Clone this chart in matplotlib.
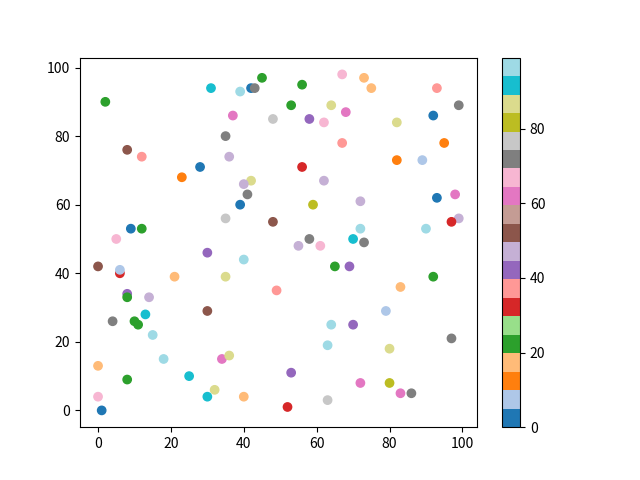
import numpy as np
import matplotlib
matplotlib.use('Agg')
import matplotlib.pyplot as plt

plt.rcParams['font.family'] = ['Noto Sans CJK SC', 'DejaVu Sans']

# point positions
x = [2, 31, 39, 42, 43, 45, 56, 53, 67, 73,
     75, 93, 99, 64, 68, 48, 58, 62, 82, 92,
     37, 35, 8, 12, 36, 67, 95, 82, 89, 28,
     23, 56, 42, 40, 41, 62, 39, 59, 35, 48,
     72, 98, 93, 99, 97, 72, 90, 9, 12, 5,
     58, 55, 61, 70, 73, 30, 40, 65, 69, 0,
     6, 6, 21, 35, 92, 83, 49, 8, 8, 14,
     79, 30, 4, 13, 10, 11, 15, 64, 70, 97,
     63, 80, 18, 34, 36, 0, 25, 53, 8, 72,
     80, 32, 0, 30, 40, 83, 86, 63, 52, 1]
y = [90, 94, 93, 94, 94, 97, 95, 89, 98, 97,
     94, 94, 89, 89, 87, 85, 85, 84, 84, 86,
     86, 80, 76, 74, 74, 78, 78, 73, 73, 71,
     68, 71, 67, 66, 63, 67, 60, 60, 56, 55,
     61, 63, 62, 56, 55, 53, 53, 53, 53, 50,
     50, 48, 48, 50, 49, 46, 44, 42, 42, 42,
     40, 41, 39, 39, 39, 36, 35, 34, 33, 33,
     29, 29, 26, 28, 26, 25, 22, 25, 25, 21,
     19, 18, 15, 15, 16, 13, 10, 11, 9, 8,
     8, 6, 4, 4, 4, 5, 5, 3, 1, 0]
# colour values (0-99)
c = [22, 92, 97, 2, 72, 22, 22, 22, 67, 17,
     17, 37, 72, 87, 62, 77, 42, 67, 87, 2,
     62, 72, 52, 37, 47, 37, 12, 12, 7, 2,
     12, 32, 87, 47, 72, 47, 2, 82, 77, 52,
     47, 62, 2, 47, 32, 97, 97, 2, 22, 67,
     72, 47, 67, 92, 72, 42, 97, 22, 42, 52,
     32, 7, 17, 87, 22, 17, 37, 42, 22, 47,
     7, 52, 72, 92, 22, 22, 97, 97, 42, 72,
     97, 87, 97, 62, 87, 17, 92, 42, 22, 62,
     82, 87, 67, 92, 17, 62, 72, 77, 32, 2]

fig, ax = plt.subplots(figsize=(6.4, 4.8), dpi=100)
sc = ax.scatter(x, y, c=c, cmap='tab20', vmin=0, vmax=99)
fig.colorbar(sc, ax=ax)
fig.savefig('out.png')
